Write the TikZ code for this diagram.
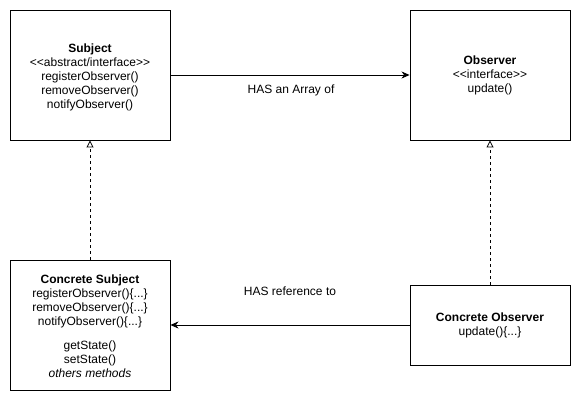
\documentclass[tikz,border=0pt]{standalone}
\usepackage{fontspec}
\setmainfont{Liberation Sans}
\usetikzlibrary{arrows.meta}
\begin{document}
\begin{tikzpicture}[x=1pt,y=-1pt,
  cls/.style={draw=black, line width=0.9pt, fill=white, inner sep=0pt, align=center,
    font=\fontsize{12}{14}\selectfont},
  assoc/.style={draw=black, line width=0.8pt, -{Stealth[length=8pt,width=7pt,inset=2.5pt]}},
  realize/.style={draw=black, line width=0.8pt, dash pattern=on 3pt off 3pt,
    -{Triangle[open,length=7pt,width=7pt,fill=white]}},
  lbl/.style={font=\fontsize{12}{14}\selectfont, inner sep=0pt}]
\useasboundingbox (0,0) rectangle (581,401);
\fill[white] (0,0) rectangle (581,401);
\node[cls, minimum width=160pt, minimum height=130pt] (subj) at (90,75)
  {\rule{0pt}{14pt}\textbf{Subject}\\{<}{<}abstract/interface{>}{>}\\registerObserver()\\removeObserver()\\notifyObserver()};
\node[cls, minimum width=160pt, minimum height=130pt] (obs) at (490,75)
  {\textbf{Observer}\\{<}{<}interface{>}{>}\\update()};
\node[cls, minimum width=160pt, minimum height=130pt] (csubj) at (90,325)
  {\rule{0pt}{12pt}\textbf{Concrete Subject}\\registerObserver()\{...\}\\removeObserver()\{...\}\\notifyObserver()\{...\}\\[10pt]getState()\\setState()\\\textit{others methods}};
\node[cls, minimum width=160pt, minimum height=80pt] (cobs) at (490,325)
  {\textbf{Concrete Observer}\\update()\{...\}};
\draw[assoc] (subj.east |- 0,75) -- (obs.west |- 0,75);
\node[lbl] (l1) at (291,90) {HAS an Array of};
\draw[assoc] (cobs.west) -- (csubj.east);
\node[lbl] (l2) at (290,291) {HAS reference to};
\draw[realize] (csubj.north) -- (subj.south);
\draw[realize] (cobs.north) -- (obs.south);
\end{tikzpicture}
\end{document}
